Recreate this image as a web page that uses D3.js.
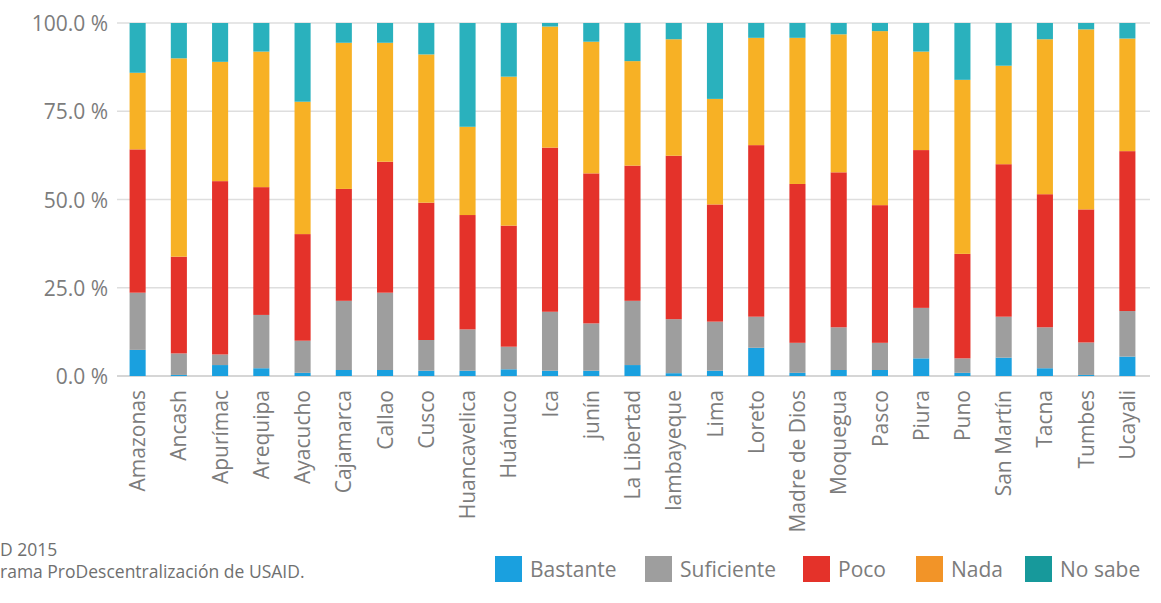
<!DOCTYPE html>
<html>
<head>
<meta charset="utf-8">
<script src="https://cdn.jsdelivr.net/npm/d3@7/dist/d3.min.js"></script>
<style>
  html, body { margin: 0; padding: 0; background: #fff; }
  svg { display: block; }
  text { font-family: "Open Sans", "Noto Sans", sans-serif; }
</style>
</head>
<body>
<svg id="chart" width="1161" height="603"></svg>
<script>
const categories = ["Amazonas","Ancash","Apurímac","Arequipa","Ayacucho","Cajamarca","Callao","Cusco","Huancavelica","Huánuco","Ica","junín","La Libertad","lambayeque","Lima","Loreto","Madre de Dios","Moquegua","Pasco","Piura","Puno","San Martín","Tacna","Tumbes","Ucayali"];
const bastante   = [7.4, 0.3, 3.1, 2.2, 0.9, 1.7, 1.7, 1.5, 1.5, 1.9, 1.5, 1.5, 3.1, 0.8, 1.5, 8.0, 0.9, 1.7, 1.7, 5.0, 0.9, 5.2, 2.2, 0.3, 5.5];
const suficiente = [16.2, 6.1, 3.0, 15.1, 9.1, 19.6, 21.9, 8.7, 11.7, 6.4, 16.7, 13.4, 18.2, 15.3, 13.9, 8.8, 8.5, 12.1, 7.7, 14.3, 4.1, 11.6, 11.6, 9.2, 12.9];
const poco       = [40.6, 27.4, 49.1, 36.2, 30.2, 31.7, 37.1, 38.9, 32.4, 34.3, 46.5, 42.5, 38.3, 46.3, 33.2, 48.6, 45.0, 43.9, 39.0, 44.7, 29.6, 43.2, 37.7, 37.7, 45.3];
const nada       = [21.7, 56.2, 33.8, 38.4, 37.5, 41.4, 33.7, 42.0, 25.0, 42.2, 34.3, 37.3, 29.6, 33.0, 29.9, 30.4, 41.4, 39.1, 49.3, 27.9, 49.3, 27.9, 43.9, 51.0, 31.9];
const noSabe     = [14.1, 10.0, 11.0, 8.1, 22.3, 5.6, 5.6, 8.9, 29.4, 15.2, 1.0, 5.3, 10.8, 4.6, 21.5, 4.2, 4.2, 3.2, 2.3, 8.1, 16.1, 12.1, 4.6, 1.8, 4.4];
const seriesNames = ["Bastante","Suficiente","Poco","Nada","No sabe"];
const yTicks = [0, 25, 50, 75, 100];
const footnotes = ["D 2015", "rama ProDescentralización de USAID."];

const barColors    = ["#1aa0df", "#9e9e9e", "#e4322a", "#f7b125", "#2ab1bd"];
const legendColors = ["#1aa0df", "#9e9e9e", "#e4322a", "#f29428", "#17999b"];

const svg = d3.select("#chart");
const x = d3.scaleBand().domain(categories).range([117, 1148]).paddingInner(0.61).paddingOuter(0.305);
const y = d3.scaleLinear().domain([0, 100]).range([376, 23]);

const seriesVals = [bastante, suficiente, poco, nada, noSabe];
const table = categories.map((c, i) => {
  const o = { cat: c };
  seriesNames.forEach((s, k) => o[s] = seriesVals[k][i]);
  return o;
});
const stacked = d3.stack().keys(seriesNames)(table);

// grid
const grid = svg.append("g");
grid.selectAll("line").data(yTicks).join("line")
  .attr("x1", 117).attr("x2", 1150)
  .attr("y1", d => y(d)).attr("y2", d => y(d))
  .attr("stroke", d => d === 0 ? "#c8c8c8" : "#dedede")
  .attr("stroke-width", 1.5);

// y axis labels
const yAxis = d3.axisLeft(y).tickValues(yTicks).tickSize(0).tickPadding(0)
  .tickFormat(d => d3.format(".1f")(d) + " %");
svg.append("g").attr("transform", "translate(108,0)").call(yAxis)
  .call(g => g.select(".domain").remove())
  .call(g => g.selectAll("text")
    .attr("font-family", "'Open Sans', sans-serif")
    .attr("font-size", 21).attr("fill", "#7c7c7c").attr("dy", "0.36em"));

// bars
svg.append("g").selectAll("g").data(stacked).join("g")
  .attr("fill", (d, i) => barColors[i])
  .selectAll("rect").data(d => d).join("rect")
  .attr("x", d => x(d.data.cat))
  .attr("width", x.bandwidth())
  .attr("y", d => y(d[1]))
  .attr("height", d => y(d[0]) - y(d[1]));

// x labels
const xAxis = d3.axisBottom(x).tickSize(0).tickPadding(0);
svg.append("g").call(xAxis)
  .call(g => g.select(".domain").remove())
  .call(g => g.selectAll(".tick text")
    .attr("font-family", "'Open Sans', sans-serif")
    .attr("font-size", 21).attr("fill", "#7c7c7c")
    .attr("text-anchor", "end")
    .attr("transform", "translate(0,390) rotate(-90)")
    .attr("x", 0).attr("y", 0).attr("dy", "0.36em"));

// footnotes
svg.append("g").selectAll("text").data(footnotes).join("text")
  .attr("x", 0)
  .attr("y", (d, i) => 556 + i * 22)
  .attr("font-size", 17.5).attr("fill", "#6f6f6f")
  .text(d => d);

// legend
const legendX = [495, 645, 803, 916, 1025];
const lg = svg.append("g").selectAll("g").data(seriesNames).join("g")
  .attr("transform", (d, i) => `translate(${legendX[i]},556)`);
lg.append("rect").attr("width", 27).attr("height", 26).attr("fill", (d, i) => legendColors[i]);
lg.append("text").attr("x", 35).attr("y", 13).attr("dy", "0.36em")
  .attr("font-size", 21).attr("fill", "#7c7c7c").text(d => d);
</script>
</body>
</html>
